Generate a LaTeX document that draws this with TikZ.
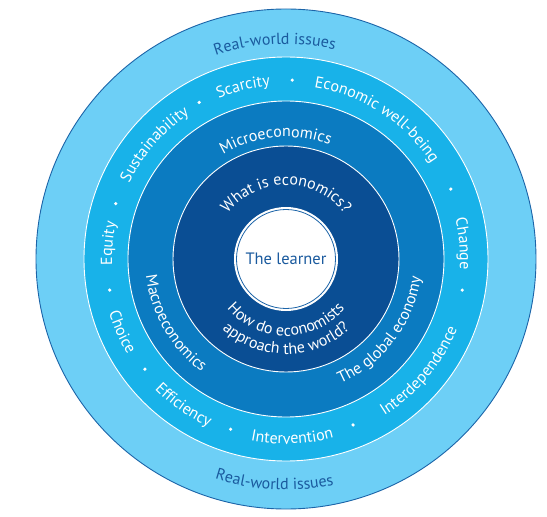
\documentclass[tikz,border=0pt]{standalone}
\usepackage{fontspec}
\setmainfont{PT Sans}
\usetikzlibrary{decorations.text}
\definecolor{ringA}{HTML}{6DCFF6}
\definecolor{ringB}{HTML}{18B2E9}
\definecolor{ringC}{HTML}{0B7BC1}
\definecolor{ringD}{HTML}{0A4E94}
\definecolor{edgeblue}{HTML}{1C64A8}
\definecolor{textblue}{HTML}{1A5A9E}
\newcommand\ringfont{\fontsize{16}{19}\selectfont}
\newcommand\learnerfont{\fontsize{16.5}{19}\selectfont}
% clockwise text (upper half): color, centre angle, baseline radius, half span, text
\newcommand\cwtext[5]{%
  \path[decorate,decoration={text along path,text align=center,text color=#1,text={|\ringfont|#5}}]
    ({#2+#4}:#3pt) arc[start angle={#2+#4},end angle={#2-#4},radius=#3pt];}
% counter-clockwise text (lower half)
\newcommand\ccwtext[5]{%
  \path[decorate,decoration={text along path,text align=center,text color=#1,text={|\ringfont|#5}}]
    ({#2-#4}:#3pt) arc[start angle={#2-#4},end angle={#2+#4},radius=#3pt];}
\tikzset{
  sep/.style={white,line width=0.9pt},
  dot/.style={white},
  learnerstyle/.style={text=textblue,font=\learnerfont}
}
\begin{document}
\begin{tikzpicture}[x=1pt,y=1pt]
\useasboundingbox (-286,-258) rectangle (261,259);
% rings
\fill[ringA] (0,0) circle[radius=250pt];
\draw[edgeblue,line width=0.9pt] (0,0) circle[radius=250pt];
\fill[ringB] (0,0) circle[radius=202pt];
\fill[ringC] (0,0) circle[radius=158pt];
\fill[ringD] (0,0) circle[radius=113pt];
\fill[white] (0,0) circle[radius=52pt];
\draw[sep] (0,0) circle[radius=202pt];
\draw[sep] (0,0) circle[radius=158pt];
\draw[sep] (0,0) circle[radius=113pt];
\draw[edgeblue,line width=0.8pt] (0,0) circle[radius=49.5pt];
% centre
\node[learnerstyle] (learner) at (0,0) {The learner};
% outer ring
\cwtext{textblue}{93}{215}{40}{Real-world issues}
\ccwtext{textblue}{-93}{231}{40}{Real-world issues}
% issues ring
\cwtext{white}{104}{174}{30}{Scarcity}
\cwtext{white}{57}{174}{45}{Economic well-being}
\cwtext{white}{5}{174}{25}{Change}
\cwtext{white}{175}{174}{25}{Equity}
\cwtext{white}{139}{174}{35}{Sustainability}
\ccwtext{white}{-40}{185}{40}{Interdependence}
\ccwtext{white}{-88}{185}{30}{Intervention}
\ccwtext{white}{-125}{185}{30}{Efficiency}
\ccwtext{white}{-156}{185}{25}{Choice}
\foreach \a in {88,23,-10,-68,-108,-142,-170,162,119}
  \fill[dot] (\a:179pt) circle[radius=1.8pt];
% micro / macro ring
\cwtext{white}{95}{122}{50}{Microeconomics}
\ccwtext{white}{-150}{141}{45}{Macroeconomics}
\ccwtext{white}{-37}{136}{50}{The global economy}
% dark ring
\cwtext{white}{90}{74}{80}{What is economics?}
\ccwtext{white}{-90}{77}{80}{How do economists}
\ccwtext{white}{-90}{95}{70}{approach the world?}
\end{tikzpicture}
\end{document}
